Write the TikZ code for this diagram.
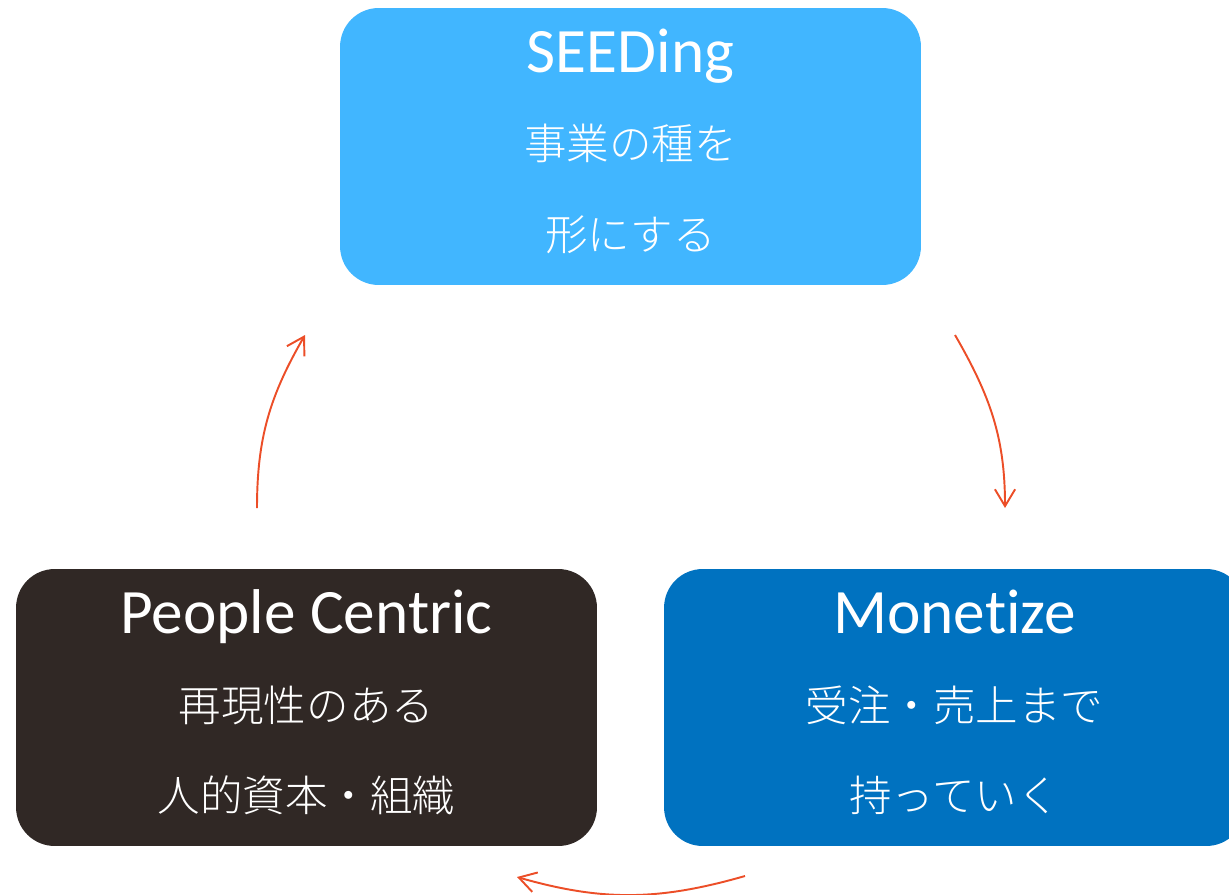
\documentclass[tikz,border=0pt]{standalone}
\usepackage{fontspec}
\setmainfont[Ligatures={NoCommon}]{Carlito}
\newfontfamily\jpfont[UprightFont={* Light}]{Noto Sans CJK JP}
\usetikzlibrary{arrows.meta}
\definecolor{seedblue}{RGB}{65,182,255}
\definecolor{monblue}{RGB}{0,114,192}
\definecolor{peopledark}{RGB}{48,40,37}
\definecolor{arrowred}{RGB}{236,78,40}
\tikzset{
  box/.style={rounded corners=22pt, minimum width=11.62cm, minimum height=5.54cm, inner sep=0pt},
  titletext/.style={text=white, font=\fontsize{36}{40}\selectfont, anchor=base, inner sep=0pt},
  jptext/.style={text=white, font=\jpfont\fontsize{24.2}{28}\selectfont, inner sep=0pt, text height=0.88em, text depth=0.12em},
  cyc/.style={draw=arrowred, line width=1.1pt, -{Straight Barb[length=9.6pt,width=11.5pt,line width=1.1pt]}}
}
\begin{document}
\begin{tikzpicture}[x=0.02cm,y=0.02cm]
\useasboundingbox (0,0) rectangle (1229,894);
\clip (0,0) rectangle (1229,894);
% boxes
\node[box, fill=seedblue] (seed) at (630.5,747.5) {};
\node[box, fill=peopledark] (people) at (306.5,186.5) {};
\node[box, fill=monblue] (money) at (954.5,186.5) {};
% texts
\node[titletext] (seedT) at (630.5,821) {SEEDing};
\node[jptext] (seedA) at (630.5,741) {事業の種を};
\node[jptext] (seedB) at (630.5,650) {形にする};
\node[titletext] (peopleT) at (306.5,261) {People Centric};
\node[jptext] (peopleA) at (306.5,179) {再現性のある};
\node[jptext] (peopleB) at (306.5,89) {人的資本・組織};
\node[titletext] (moneyT) at (954.5,261) {Monetize};
\node[jptext] (moneyA) at (954.5,179) {受注・売上まで};
\node[jptext] (moneyB) at (954.5,89) {持っていく};
% arrow ends
\coordinate (a1s) at (257,386);
\coordinate (a1e) at (305,559);
\coordinate (a2s) at (955,559);
\coordinate (a2e) at (1005,386);
\coordinate (a3s) at (745,18);
\coordinate (a3e) at (517,17);
\draw[cyc] (a1s) to[out=90,in=240] (a1e);
\draw[cyc] (a2s) to[out=-60,in=90] (a2e);
\draw[cyc] (a3s) to[out=196,in=-16] (a3e);
\end{tikzpicture}
\end{document}
